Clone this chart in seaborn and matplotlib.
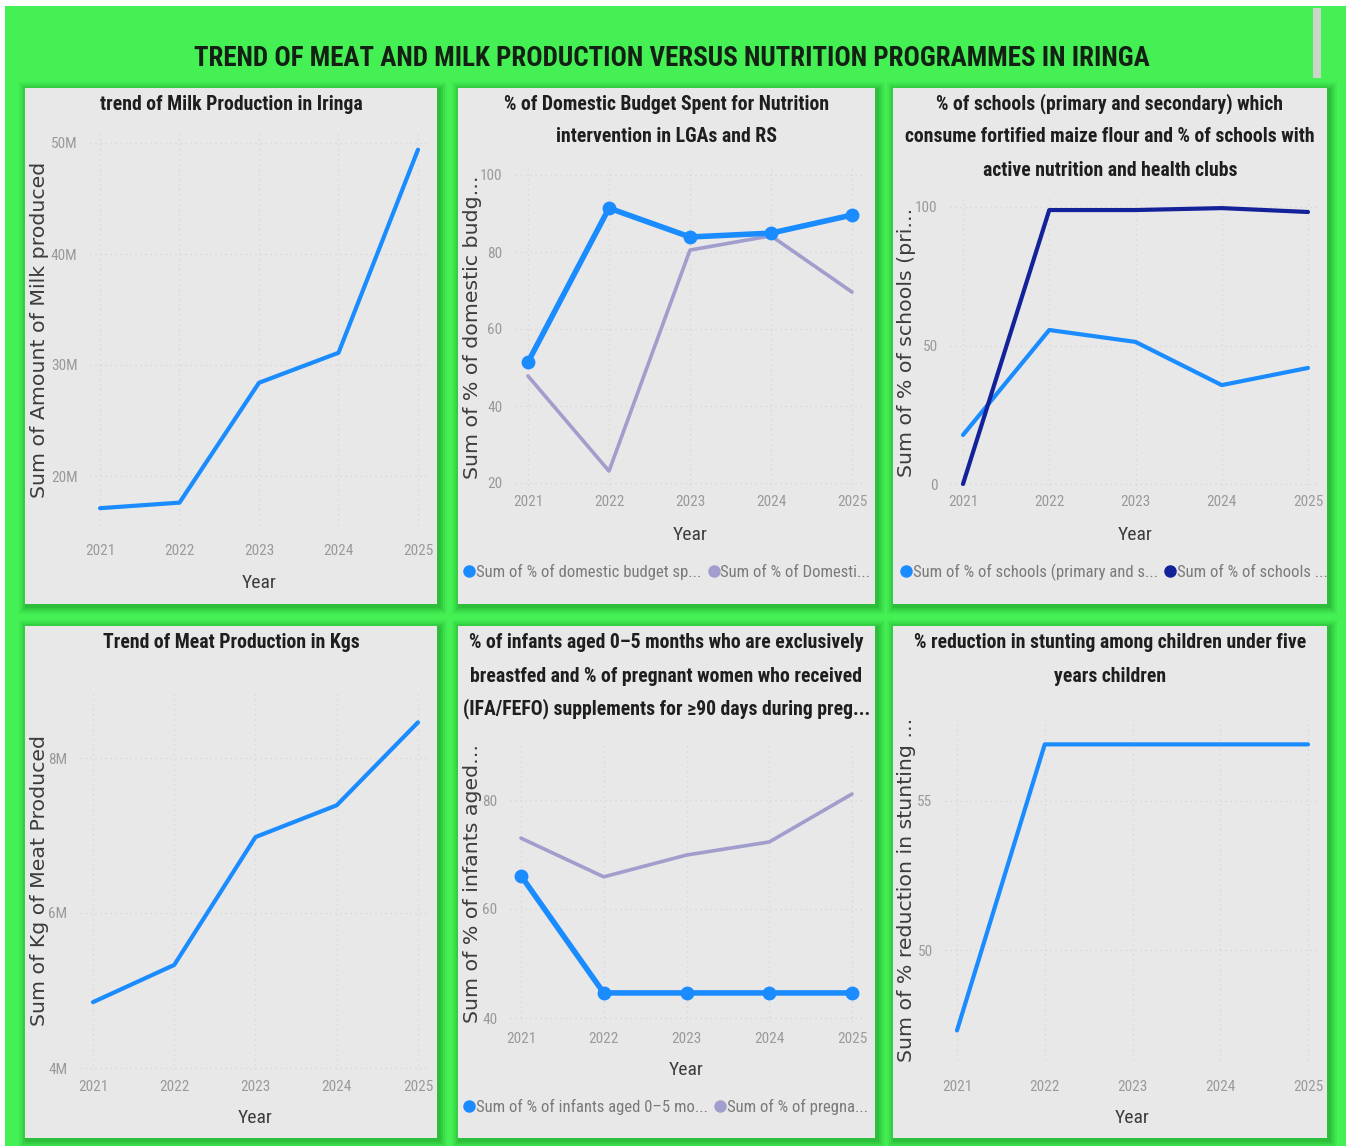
import matplotlib
matplotlib.use("Agg")
import numpy as np
import pandas as pd
import seaborn as sns
import matplotlib.pyplot as plt
from matplotlib import font_manager
from matplotlib.patches import Rectangle
from matplotlib.lines import Line2D
from matplotlib.ticker import FuncFormatter, FixedLocator

# ---------------------------------------------------------------- data
years = [2021, 2022, 2023, 2024, 2025]

milk_produced = [17.1e6, 17.6e6, 28.4e6, 31.1e6, 49.4e6]
meat_kg = [4.85e6, 5.33e6, 6.98e6, 7.39e6, 8.46e6]

budget_spent_pct = [51.4, 91.4, 83.9, 84.9, 89.6]
domestic_budget_pct = [47.8, 23.1, 80.5, 84.2, 69.6]

schools_fortified_pct = [17.7, 55.6, 51.3, 35.7, 41.9]
schools_clubs_pct = [0.0, 98.9, 98.9, 99.6, 98.2]

infants_ebf_pct = [66.1, 44.6, 44.6, 44.6, 44.6]
pregnant_ifa_pct = [73.0, 65.9, 69.9, 72.3, 81.1]

stunting_reduction_pct = [47.3, 56.9, 56.9, 56.9, 56.9]

milk_ticks = [20e6, 30e6, 40e6, 50e6]
meat_ticks = [4e6, 6e6, 8e6]
budget_ticks = [20, 40, 60, 80, 100]
schools_ticks = [0, 50, 100]
infants_ticks = [40, 60, 80]
stunting_ticks = [50, 55]

main_title = "TREND OF MEAT AND MILK PRODUCTION VERSUS NUTRITION PROGRAMMES IN IRINGA"
panel_titles = [
    ["trend of Milk Production in Iringa"],
    ["% of Domestic Budget Spent for Nutrition", "intervention in LGAs and RS"],
    ["% of schools (primary and secondary) which",
     "consume fortified maize flour and % of schools with",
     "active nutrition and health clubs"],
    ["Trend of Meat Production in Kgs"],
    ["% of infants aged 0\u20135 months who are exclusively",
     "breastfed and % of pregnant women who received",
     "(IFA/FEFO) supplements for \u226590 days during preg..."],
    ["% reduction in stunting among children under five", "years children"],
]
y_labels = [
    "Sum of Amount of Milk produced",
    "Sum of % of domestic budg...",
    "Sum of % of schools (pri...",
    "Sum of Kg of Meat Produced",
    "Sum of % of infants aged...",
    "Sum of % reduction in stunting ...",
]
legend_budget = ["Sum of % of domestic budget sp...", "Sum of % of Domesti..."]
legend_schools = ["Sum of % of schools (primary and s...", "Sum of % of schools ..."]
legend_infants = ["Sum of % of infants aged 0\u20135 mo...", "Sum of % of pregna..."]

# ---------------------------------------------------------------- style
BLUE = "#1a8cff"
LILAC = "#a19dcc"
NAVY = "#14229a"
GREEN = "#45f054"
SHADOW = "#1c9a2a"
CARD = "#e8e8e8"
TITLE_C = "#1e1e1e"
TICK_C = "#9a9a9a"
LABEL_C = "#3c3c3c"

sns.set_theme(style="white")
plt.rcParams["font.family"] = ["DejaVu Sans"]


def condensed_font():
    entries = font_manager.fontManager.ttflist
    names = {f.name for f in entries}
    for n in ["Liberation Sans Narrow", "DejaVu Sans Condensed", "Roboto Condensed",
              "Open Sans Condensed", "Noto Sans Condensed", "Arial Narrow"]:
        if n in names:
            return {"family": n}
    for f in entries:
        if str(f.stretch) in ("condensed", "semi-condensed", "extra-condensed"):
            return {"family": f.name, "stretch": f.stretch}
    return {"family": "DejaVu Sans"}


COND = condensed_font()

W, H = 1351, 1146
fig = plt.figure(figsize=(W / 100, H / 100), dpi=100, facecolor="white")
renderer = fig.canvas.get_renderer()


def fx(x):
    return x / W


def fy(y):
    return 1 - y / H


def width_px(s, size, **kw):
    t = fig.text(0, 0, s, fontsize=size, **kw)
    w = t.get_window_extent(renderer).width
    t.remove()
    return w


def fit_size(s, target, **kw):
    return 20 * target / width_px(s, 20, **kw)


# green canvas with a thin white rim
fig.patches.append(Rectangle((fx(5), fy(1146)), fx(1346) - fx(5), fy(6) - fy(1146),
                             transform=fig.transFigure, facecolor=GREEN, edgecolor="none", zorder=0))
# scroll bar at the top right
fig.patches.append(Rectangle((fx(1313), fy(78)), fx(8), fy(8) - fy(78),
                             transform=fig.transFigure, facecolor="#c9d6c9", edgecolor="none", zorder=1))

# main title
ts = fit_size(main_title, 960, fontweight="bold", **COND)
fig.text(fx(672), fy(58), main_title, ha="center", va="center", fontsize=ts,
         fontweight="bold", color="#132013", **COND)

# card rectangles (left, top, right, bottom) in px
cards = [
    (25, 88, 437, 604), (458, 88, 875, 604), (893, 88, 1327, 604),
    (25, 626, 437, 1138), (458, 626, 875, 1138), (893, 626, 1327, 1138),
]
for (l, t, r, b) in cards:
    for k, a in [(8, 0.10), (6, 0.14), (4, 0.20), (2, 0.28)]:
        fig.patches.append(Rectangle((fx(l - k + 2), fy(b + k + 2)), fx(r - l + 2 * k), (b - t + 2 * k) / H,
                                     transform=fig.transFigure, facecolor=SHADOW, edgecolor="none",
                                     alpha=a, zorder=1))
    fig.patches.append(Rectangle((fx(l), fy(b)), fx(r - l), (b - t) / H, transform=fig.transFigure,
                                 facecolor=CARD, edgecolor="none", zorder=2))

# panel titles: one common size
ref_line = panel_titles[2][1]
pts = fit_size(ref_line, 410, fontweight="bold", **COND)
title_tops = [104, 104, 104, 642, 643, 643]
for (l, t, r, b), lines, y0 in zip(cards, panel_titles, title_tops):
    for i, line in enumerate(lines):
        fig.text(fx((l + r) / 2), fy(y0 + 33 * i), line, ha="center", va="center",
                 fontsize=pts, fontweight="bold", color=TITLE_C, **COND, zorder=5)

ylab_size = fit_size(y_labels[0], 335)

# axes definitions: box (L, T, R, B), x map, y map, tick positions,
# y-label x centre, x tick label y, "Year" y
panels = [
    dict(box=(90, 130, 430, 530), xm=((2021, 100), (2025, 418)), ym=((20e6, 476), (50e6, 143)),
         ticks=milk_ticks, fmt="M", ylx=40, xty=552, yry=583),
    dict(box=(515, 165, 862, 490), xm=((2021, 528), (2025, 852)), ym=((20, 483), (100, 175)),
         ticks=budget_ticks, fmt="n", ylx=473, xty=503, yry=535),
    dict(box=(950, 195, 1318, 490), xm=((2021, 963), (2025, 1308)), ym=((0, 484), (100, 207)),
         ticks=schools_ticks, fmt="n", ylx=907, xty=503, yry=535),
    dict(box=(80, 690, 430, 1070), xm=((2021, 93), (2025, 418)), ym=((4e6, 1068), (8e6, 758)),
         ticks=meat_ticks, fmt="M", ylx=40, xty=1088, yry=1118),
    dict(box=(510, 745, 862, 1022), xm=((2021, 521), (2025, 852)), ym=((40, 1018), (80, 800)),
         ticks=infants_ticks, fmt="n", ylx=473, xty=1040, yry=1070),
    dict(box=(945, 715, 1320, 1065), xm=((2021, 957), (2025, 1308)), ym=((50, 950), (55, 801)),
         ticks=stunting_ticks, fmt="n", ylx=906, xty=1088, yry=1118),
]

series = [
    [(milk_produced, BLUE, 3.0, False)],
    [(domestic_budget_pct, LILAC, 2.6, False), (budget_spent_pct, BLUE, 4.0, True)],
    [(schools_fortified_pct, BLUE, 3.0, False), (schools_clubs_pct, NAVY, 3.0, False)],
    [(meat_kg, BLUE, 3.0, False)],
    [(pregnant_ifa_pct, LILAC, 2.6, False), (infants_ebf_pct, BLUE, 4.0, True)],
    [(stunting_reduction_pct, BLUE, 3.0, False)],
]

axes = []
for p, ser, ylab in zip(panels, series, y_labels):
    L, T, R, B = p["box"]
    ax = fig.add_axes([fx(L), fy(B), (R - L) / W, (B - T) / H], zorder=4)
    ax.set_facecolor("none")
    (xa, pa), (xb, pb) = p["xm"]
    s = (pb - pa) / (xb - xa)
    ax.set_xlim(xa - (pa - L) / s, xb + (R - pb) / s)
    (ya, qa), (yb, qb) = p["ym"]
    t = (qa - qb) / (yb - ya)
    ax.set_ylim(ya - (B - qa) / t, yb + (qb - T) / t)

    for vals, col, lw, mk in ser:
        df = pd.DataFrame({"Year": years, "value": vals})
        kw = dict(marker="o", markersize=10, markeredgewidth=0) if mk else {}
        sns.lineplot(data=df, x="Year", y="value", ax=ax, color=col, linewidth=lw, **kw)

    for sp in ax.spines.values():
        sp.set_visible(False)
    ax.xaxis.set_major_locator(FixedLocator(years))
    ax.yaxis.set_major_locator(FixedLocator(p["ticks"]))
    if p["fmt"] == "M":
        ax.yaxis.set_major_formatter(FuncFormatter(lambda v, _: f"{v / 1e6:.0f}M"))
    else:
        ax.yaxis.set_major_formatter(FuncFormatter(lambda v, _: f"{v:.0f}"))
    ax.grid(True, color="#d6d6d6", linestyle=(0, (1, 3)), linewidth=0.9)
    ax.tick_params(length=0, colors=TICK_C, labelsize=11)
    ax.tick_params(axis="y", pad=9)
    ax.tick_params(axis="x", pad=(p["xty"] - B - 8) * 0.72)
    for lab in ax.get_xticklabels() + ax.get_yticklabels():
        lab.set_fontfamily(COND["family"])
        lab.set_color(TICK_C)

    ax.set_xlabel("Year", fontsize=14, color=LABEL_C, family=COND["family"])
    ax.xaxis.set_label_coords(0.5 * (pa + pb - 2 * L) / (R - L), (B - p["yry"]) / (B - T))
    ax.xaxis.label.set_va("center")
    ax.set_ylabel(ylab, fontsize=ylab_size, color=LABEL_C, va="center")
    ax.yaxis.set_label_coords((p["ylx"] - L) / (R - L), 0.5)
    axes.append(ax)

# legends under the two-series panels
leg_font = font_manager.FontProperties(family=COND["family"], size=12)
for lbls, cols, (lx, ly) in [
    (legend_budget, [BLUE, LILAC], (465, 572)),
    (legend_schools, [BLUE, NAVY], (902, 572)),
    (legend_infants, [BLUE, LILAC], (465, 1107)),
]:
    handles = [Line2D([], [], ls="", marker="o", markersize=9, color=c, markeredgewidth=0) for c in cols]
    fig.legend(handles, lbls, loc="center left", bbox_to_anchor=(fx(lx), fy(ly)), ncol=2,
               frameon=False, handlelength=0.5, handletextpad=0.15, columnspacing=0.5,
               borderpad=0, borderaxespad=0, prop=leg_font, labelcolor="#7a7a7a")

fig.savefig("out.png", dpi=100, facecolor="white")
